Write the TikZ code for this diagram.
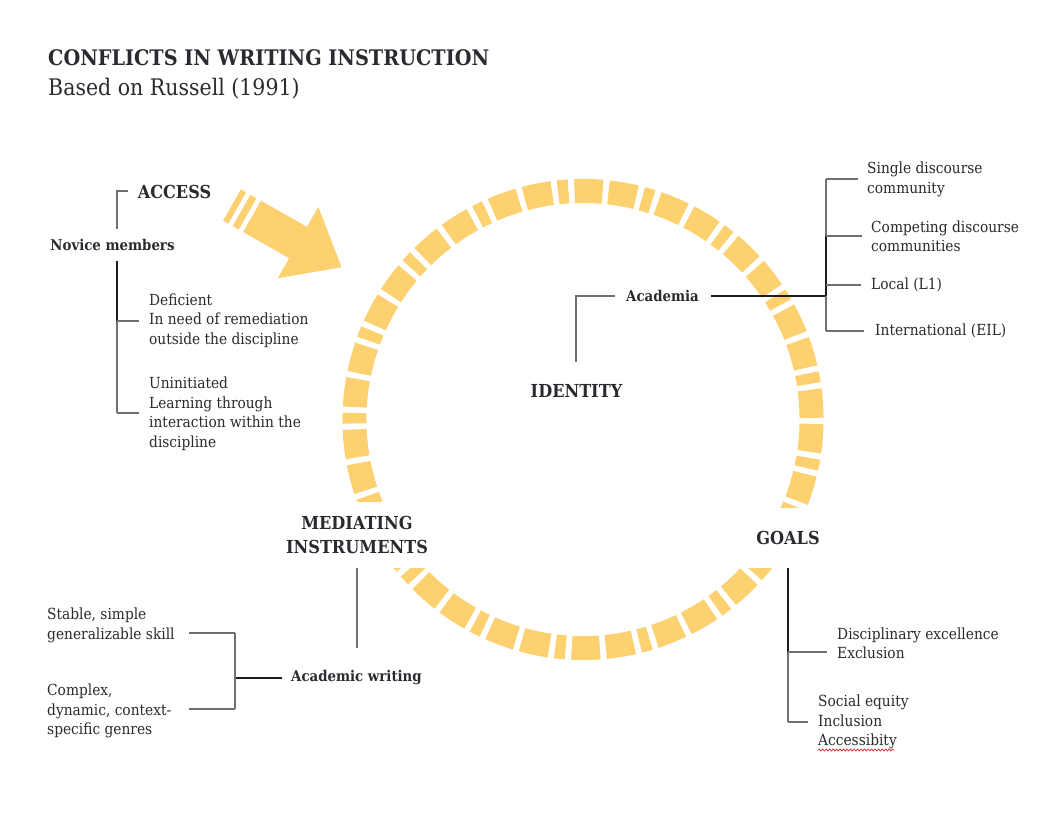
\documentclass[tikz,border=0pt]{standalone}
\usepackage{fontspec}
\setmainfont{DejaVu Serif}[FakeStretch=0.9]
\usetikzlibrary{decorations.pathmorphing}
\definecolor{ringyellow}{RGB}{253,208,112}
\definecolor{txt}{RGB}{42,42,48}
\definecolor{lgray}{RGB}{112,112,112}
\definecolor{dline}{RGB}{28,28,28}
\definecolor{spell}{RGB}{220,40,40}
\begin{document}
\begin{tikzpicture}[x=1pt,y=-1pt,
  body/.style={font=\fontsize{15.3}{19.5}\selectfont, text=txt, align=left, inner sep=0pt, anchor=west},
  lbl/.style={font=\bfseries\fontsize{17.9}{24}\selectfont, text=txt, align=center, inner sep=0pt},
  sublbl/.style={font=\bfseries\fontsize{14.8}{18}\selectfont, text=txt, inner sep=0pt},
  gl/.style={draw=lgray, line width=1.4pt},
  bl/.style={draw=dline, line width=1.7pt},
  ring/.style={draw=ringyellow, line width=24pt,
    dash pattern=on 28pt off 6pt on 28pt off 6pt on 10.45pt off 6pt},
]
\useasboundingbox[fill=white] (0,0) rectangle (1056,816);

% title
\node[anchor=base west, font=\bfseries\fontsize{21.4}{26}\selectfont, text=txt, inner sep=0pt] (title) at (48,65) {CONFLICTS IN WRITING INSTRUCTION};
\node[anchor=base west, font=\fontsize{22.8}{26}\selectfont, text=txt, inner sep=0pt] (subtitle) at (48,95) {Based on Russell (1991)};

% ring
\coordinate (ctr) at (583,419.5);
\draw[ring] (ctr) ++(246.7:228.5) arc[start angle=246.7, end angle=606.7, radius=228.5];

% arrow
\begin{scope}[shift={(232,205)}, rotate=-29.6]
  \fill[ringyellow] (0,-18) rectangle (6,18);
  \fill[ringyellow] (11,-18) rectangle (18,18);
  \fill[ringyellow] (23,-18) -- (76,-18) -- (76,-41) -- (126,0) -- (76,41) -- (76,18) -- (23,18) -- cycle;
\end{scope}

% ACCESS block
\node[lbl] (access) at (174.5,192) {ACCESS};
\node[sublbl] (novice) at (112.5,245) {Novice members};
\coordinate (acA) at (128,191);
\coordinate (acB) at (117,191);
\coordinate (acC) at (117,229);
\draw[gl] (acA) -- (acB) -- (acC);
\coordinate (nv1) at (117,261);
\coordinate (nv2) at (117,321);
\coordinate (nv3) at (117,413);
\node[body] (deficient) at (149,320.5) {Deficient\\In need of remediation\\outside the discipline};
\node[body] (uninit) at (149,414) {Uninitiated\\Learning through\\interaction within the\\discipline};
\draw[bl] (nv1) -- (nv2);
\draw[gl] (nv2) -- (nv3);
\draw[gl] (nv2) -- ([xshift=-10pt]deficient.west |- nv2);
\draw[gl] (nv3) -- ([xshift=-10pt]uninit.west |- nv3);

% IDENTITY block
\node[lbl] (identity) at (576.5,391) {IDENTITY};
\node[sublbl] (acad) at (662.5,296) {Academia};
\coordinate (idTop) at (576,362);
\draw[gl] ([xshift=-11pt]acad.west) -| (idTop);
\coordinate (rb) at (826,296);
\coordinate (r1) at (826,179);
\coordinate (r2) at (826,236);
\coordinate (r3) at (826,285);
\coordinate (r4) at (826,331);
\node[body] (single) at (867,179.5) {Single discourse\\community};
\node[body] (competing) at (871,236.5) {Competing discourse\\communities};
\node[body] (local) at (871,285) {Local (L1)};
\node[body] (intl) at (875,331) {International (EIL)};
\draw[bl] ([xshift=12pt]acad.east) -- (rb);
\draw[gl] (r1) -- (r2);
\draw[bl] (r2) -- (rb);
\draw[gl] (rb) -- (r4);
\draw[gl] (r1) -- ([xshift=-9pt]single.west |- r1);
\draw[gl] (r2) -- ([xshift=-9pt]competing.west |- r2);
\draw[gl] (r3) -- ([xshift=-10pt]local.west |- r3);
\draw[gl] (r4) -- ([xshift=-11pt]intl.west |- r4);

% MEDIATING INSTRUMENTS block
\node[lbl, fill=white, minimum width=170pt, minimum height=66pt] (mediating) at (357,535) {MEDIATING\\INSTRUMENTS};
\coordinate (mdBot) at (357,648);
\draw[gl] (mediating.south) -- (mdBot);
\node[sublbl, anchor=west] (acw) at (291,678) {Academic writing};
\coordinate (bk0) at (235,678);
\coordinate (bk1) at (235,633);
\coordinate (bk2) at (235,709);
\node[body] (stable) at (47,625.5) {Stable, simple\\generalizable skill};
\node[body] (complex) at (47,711) {Complex,\\dynamic, context-\\specific genres};
\draw[bl] ([xshift=-9pt]acw.west) -- (bk0);
\draw[gl] (bk1) -- (bk2);
\draw[gl] (bk1) -- (189,633);
\draw[gl] (bk2) -- (189,709);

% GOALS block
\node[lbl, fill=white, minimum width=140pt, minimum height=60pt] (goals) at (788,537.5) {GOALS};
\coordinate (g1) at (788,652);
\coordinate (g2) at (788,722);
\node[body] (disc) at (837,643.5) {Disciplinary excellence\\Exclusion};
\node[body] (social) at (818,722) {Social equity\\Inclusion\\Accessibity};
\draw[bl] (goals.south) -- (g1);
\draw[gl] (g1) -- (g2);
\draw[gl] (g1) -- ([xshift=-10pt]disc.west |- g1);
\draw[gl] (g2) -- ([xshift=-10pt]social.west |- g2);
\coordinate (spA) at (818,750);
\coordinate (spB) at (894,750);
\draw[spell, line width=0.7pt, decorate, decoration={snake, amplitude=1pt, segment length=3.5pt}] (spA) -- (spB);
\end{tikzpicture}
\end{document}
